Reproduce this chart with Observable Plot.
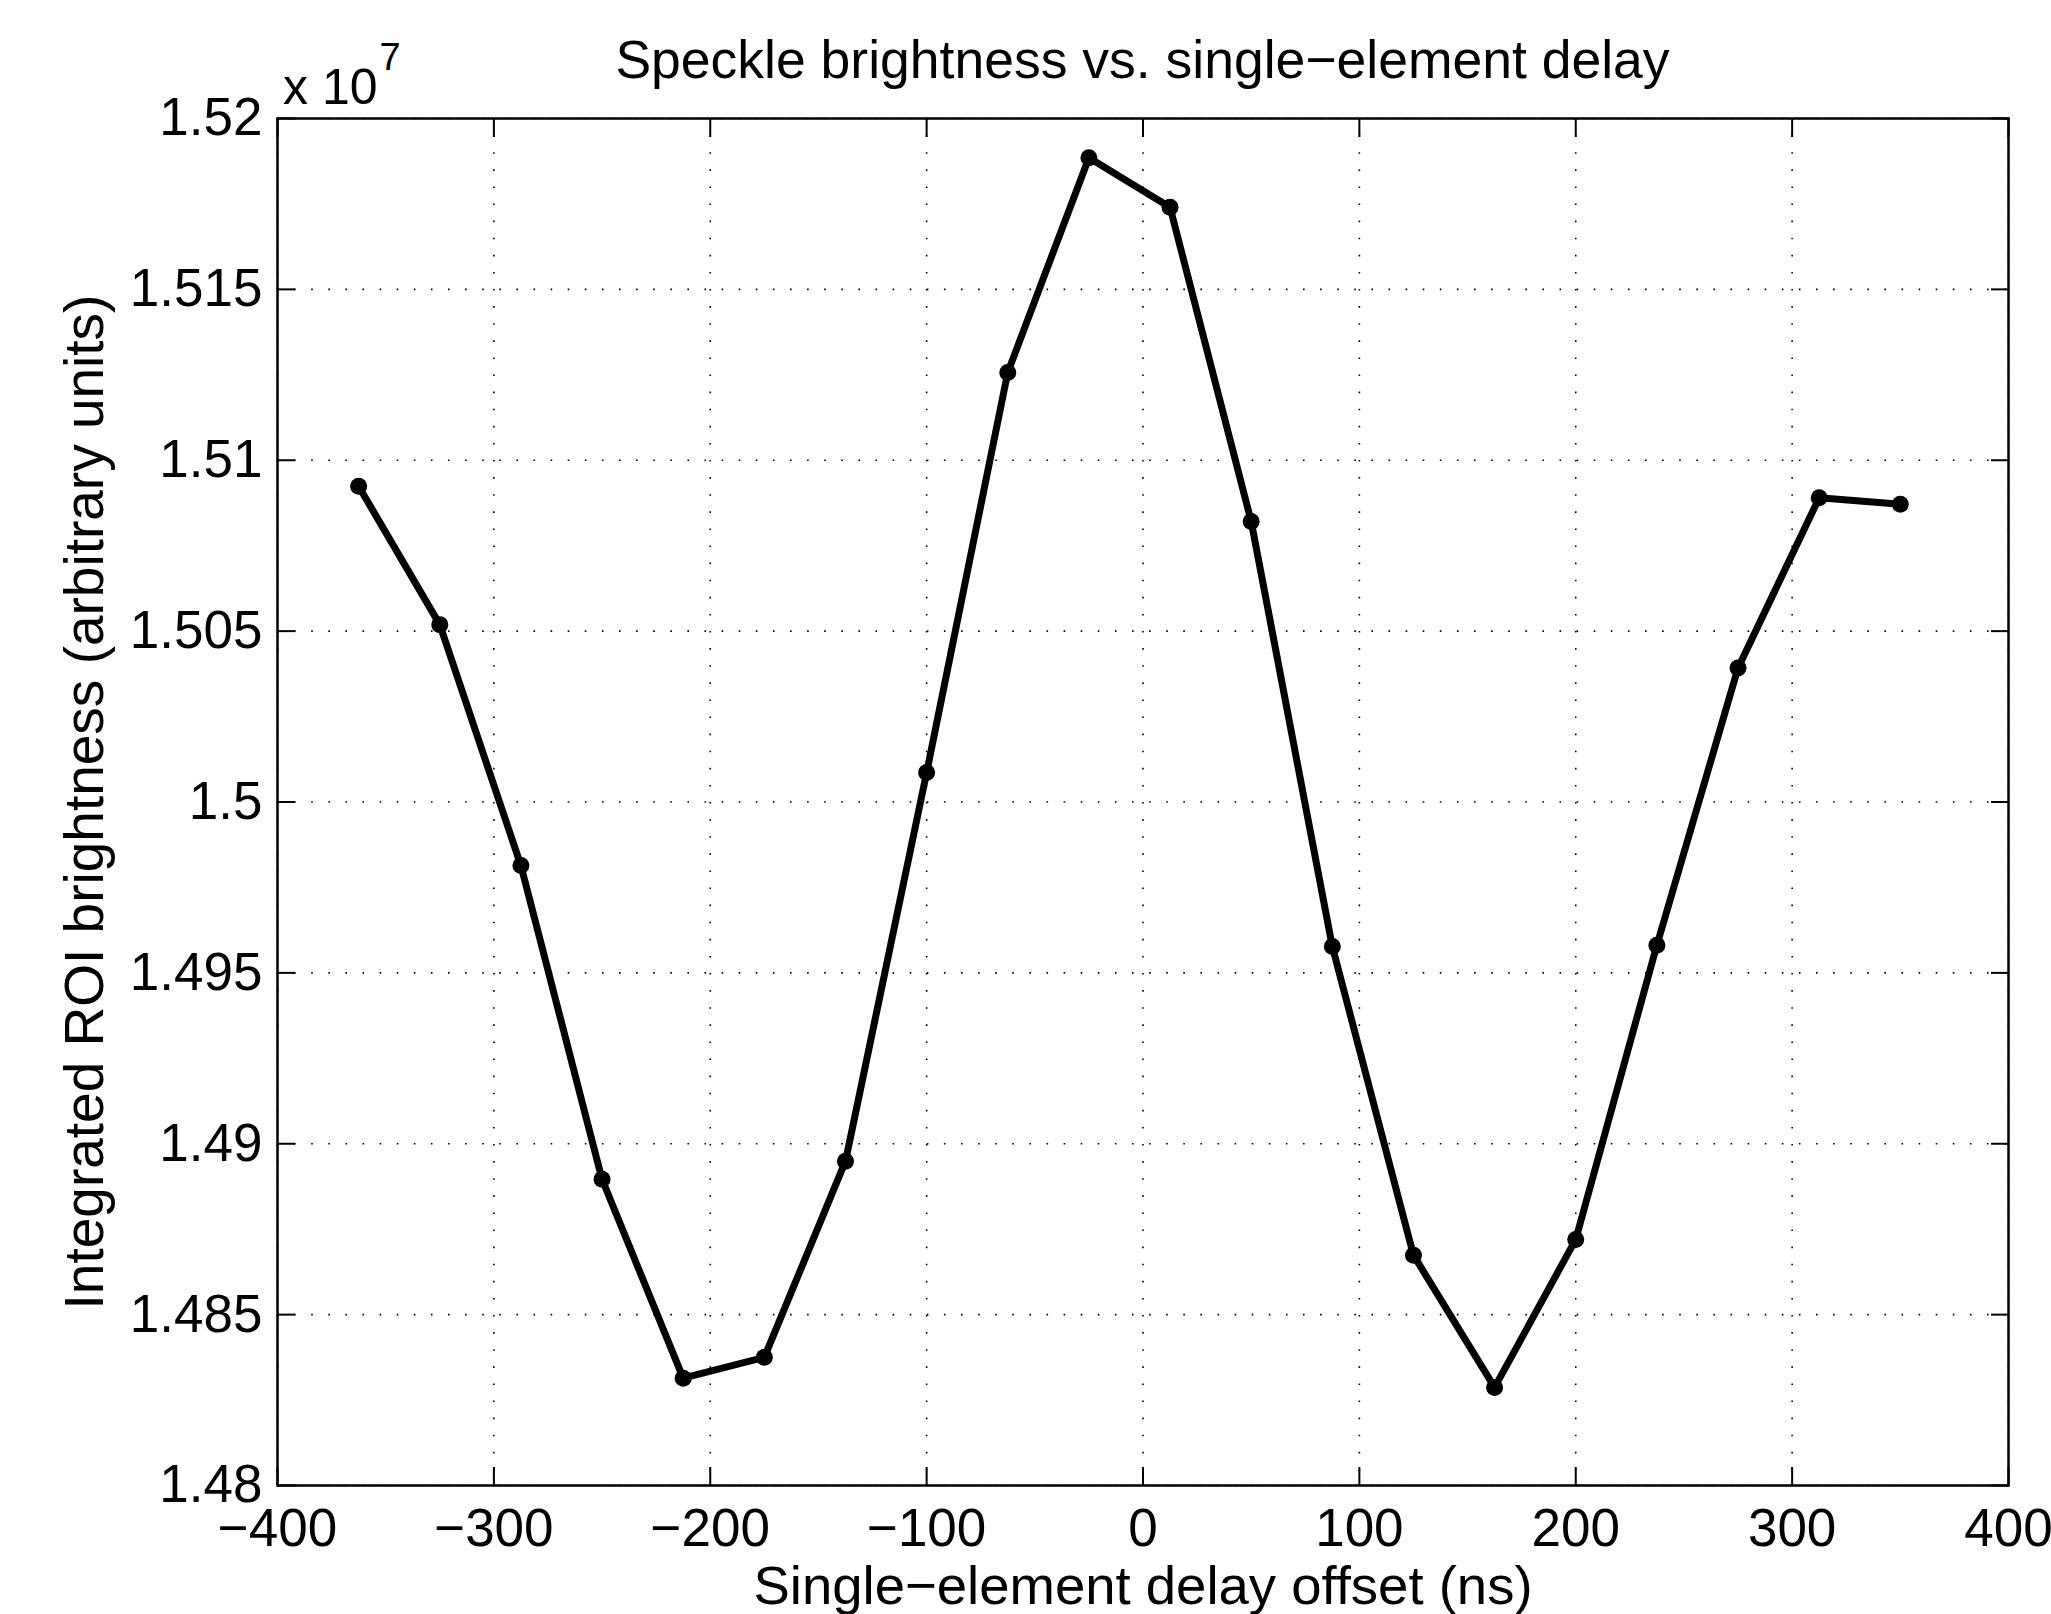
<!DOCTYPE html>
<html>
<head>
<meta charset="utf-8">
<script src="https://cdn.jsdelivr.net/npm/d3@7"></script>
<script src="https://cdn.jsdelivr.net/npm/@observablehq/plot@0.6"></script>
<style>
  body { margin: 0; background: #fff; }
  #wrap { position: relative; width: 2051px; height: 1614px; font-family: "Liberation Sans", Arial, Helvetica, sans-serif; color: #000; }
  #title { position: absolute; left: 277px; width: 1731px; top: 33px; text-align: center; font-size: 53.5px; line-height: 54px; white-space: nowrap; }
  #mult { position: absolute; left: 283px; top: 62px; font-size: 50px; line-height: 50px; white-space: nowrap; }
  #mult sup { font-size: 38px; position: relative; top: -24px; left: 2px; vertical-align: top; line-height: 38px; }
  #chart { position: absolute; left: 0; top: 0; }
</style>
</head>
<body>
<div id="wrap">
  <div id="chart"></div>
  <div id="title">Speckle brightness vs. single−element delay</div>
  <div id="mult">x 10<sup>7</sup></div>
</div>
<script>
// Single-element delay offset (ns)
const delays = [-362.5, -325, -287.5, -250, -212.5, -175, -137.5, -100, -62.5, -25,
                12.5, 50, 87.5, 125, 162.5, 200, 237.5, 275, 312.5, 350];
// Integrated ROI brightness (arbitrary units)
const brightness = [15092400, 15051900, 14981400, 14889600, 14831400, 14837500, 14894900, 15008600, 15125700, 15188500,
                    15174000, 15082100, 14957700, 14867400, 14828700, 14872000, 14958100, 15039200, 15089000, 15087100];

const xTicks = [-400, -300, -200, -100, 0, 100, 200, 300, 400];
const xTickLabels = ["−400", "−300", "−200", "−100", "0", "100", "200", "300", "400"];
const yTicks = [14800000, 14850000, 14900000, 14950000, 15000000, 15050000, 15100000, 15150000, 15200000];
const yTickLabels = ["1.48", "1.485", "1.49", "1.495", "1.5", "1.505", "1.51", "1.515", "1.52"];

const titleText = "Speckle brightness vs. single−element delay";
const xLabel = "Single−element delay offset (ns)";
const yLabel = "Integrated ROI brightness (arbitrary units)";

const data = delays.map((d, i) => ({delay: d, value: brightness[i]}));

const chart = Plot.plot({
  width: 2051,
  height: 1614,
  marginLeft: 277,
  marginRight: 43,
  marginTop: 118,
  marginBottom: 129,
  style: {fontFamily: '"Liberation Sans", Arial, Helvetica, sans-serif', fontSize: "53px", color: "#000", background: "#fff", overflow: "visible"},
  x: {domain: [-400, 400], label: null},
  y: {domain: [14800000, 15200000], label: null},
  marks: [
    Plot.gridX(xTicks, {stroke: "#000", strokeOpacity: 1, strokeWidth: 1.6, strokeDasharray: "1.6,15.5"}),
    Plot.gridY(yTicks, {stroke: "#000", strokeOpacity: 1, strokeWidth: 1.6, strokeDasharray: "1.6,15.5"}),
    Plot.frame({stroke: "#000", strokeWidth: 2.5}),
    // inward ticks on all four sides
    Plot.axisX({anchor: "bottom", ticks: xTicks, tickSize: -18, tickFormat: () => "", label: null, strokeWidth: 2}),
    Plot.axisX({anchor: "top", ticks: xTicks, tickSize: -18, tickFormat: () => "", label: null, strokeWidth: 2}),
    Plot.axisY({anchor: "left", ticks: yTicks, tickSize: -18, tickFormat: () => "", label: null, strokeWidth: 2}),
    Plot.axisY({anchor: "right", ticks: yTicks, tickSize: -18, tickFormat: () => "", label: null, strokeWidth: 2}),
    // tick labels
    Plot.axisX({anchor: "bottom", ticks: xTicks, tickSize: 0, tickPadding: 23, label: null,
                tickFormat: d => xTickLabels[xTicks.indexOf(d)], fontSize: 53}),
    Plot.axisY({anchor: "left", ticks: yTicks, tickSize: 0, tickPadding: 15, label: null,
                tickFormat: d => yTickLabels[yTicks.indexOf(d)], fontSize: 53}),
    // axis titles
    Plot.text([xLabel], {text: d => d, frameAnchor: "bottom", lineAnchor: "bottom", dy: 118, fontSize: 54.5}),
    Plot.text([yLabel], {text: d => d, frameAnchor: "left", rotate: -90, textAnchor: "middle", lineAnchor: "middle", dx: -192, dy: 0, fontSize: 55}),
    // data
    Plot.line(data, {x: "delay", y: "value", stroke: "#000", strokeWidth: 7, strokeLinejoin: "round"}),
    Plot.dot(data, {x: "delay", y: "value", r: 8.5, fill: "#000", stroke: "none"})
  ]
});
document.getElementById("chart").appendChild(chart);
</script>
</body>
</html>
